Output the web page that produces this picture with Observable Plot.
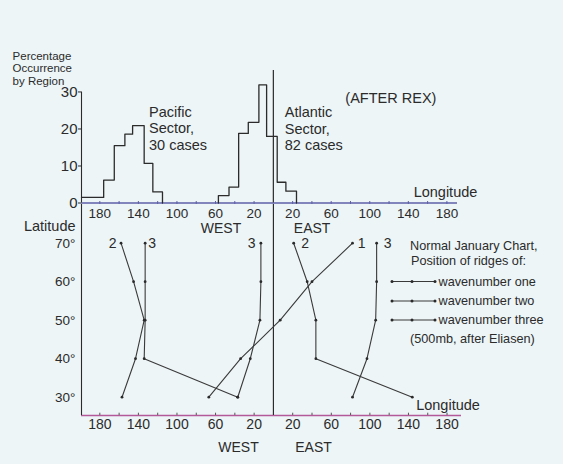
<!DOCTYPE html>
<html><head><meta charset="utf-8">
<script src="https://cdn.jsdelivr.net/npm/d3@7"></script>
<script src="https://cdn.jsdelivr.net/npm/@observablehq/plot@0.6"></script>
<style>
html,body{margin:0;padding:0;background:#edf5f7;}
#wrap{position:relative;width:563px;height:464px;overflow:hidden;background:#edf5f7;font-family:"Liberation Sans",Arial,sans-serif;color:#262626;}
#legend{position:absolute;left:0;top:0;}
</style></head><body><div id="wrap"></div>
<script>
// ---- Histogram data (percentage occurrence of blocking by longitude bin; west negative) ----
const pacificEdges = [-199, -176, -165, -154, -146, -134, -125, -115];
const pacificPct   = [1.5, 6.2, 15.5, 18.6, 20.9, 10.7, 3.0];
const atlanticEdges = [-57, -46, -36, -26, -15, -7, 4, 13, 24];
const atlanticPct   = [2.0, 4.3, 18.8, 21.8, 31.9, 18.0, 5.6, 3.2];

// ---- Ridge positions (Normal January chart, 500mb after Eliasen) ----
const ridgeLat = [70, 60, 50, 40, 30];
const wn1Lon = [82, 40, 7, -34, -67];
const wn2PacificLon = [-158, -145, -134, -143, -157];
const wn2EastLon = [21, 35, 44, 44, 144];
const wn3PacificLon = [-133, -133, -133, -134, -37];
const wn3AtlanticLon = [-13, -13, -14, -24, -37];
const wn3EastLon = [107, 107, 106, 97, 82];

// ---- Tick labels ----
const lonLabelTicks = [-180, -140, -100, -60, -20, 20, 60, 100, 140, 180];
const lonMinorTicks = [-180, -160, -140, -120, -100, -80, -60, -40, -20, 20, 40, 60, 80, 100, 120, 140, 160, 180];
const pctTicks = [0, 10, 20, 30];
const latTicks = [30, 40, 50, 60, 70];

const W = 563, H = 464;
const ink = "#2b2b2b";
const font = "'Liberation Sans', Arial, sans-serif";
const svgStyle = {position: "absolute", left: "0px", top: "0px", background: "transparent", overflow: "visible", fontFamily: font, fontSize: "13px", color: ink};

function steps(edges, vals, startAtZero) {
  const pts = [];
  if (startAtZero) pts.push({lon: edges[0], pct: 0});
  vals.forEach((v, i) => pts.push({lon: edges[i], pct: v}));
  pts.push({lon: edges[edges.length - 1], pct: vals[vals.length - 1]});
  pts.push({lon: edges[edges.length - 1], pct: 0});
  return pts;
}

const topPlot = Plot.plot({
  width: W, height: H,
  marginLeft: 81, marginRight: 106, marginTop: 70, marginBottom: 261.5,
  x: {domain: [-199, 191]},
  y: {domain: [0, 35.8]},
  style: svgStyle,
  marks: [
    Plot.ruleY([0], {x1: -199, x2: 191, stroke: "#5d5fa8", strokeWidth: 1.3}),
    Plot.ruleX([-199], {y1: 0, y2: 30, stroke: ink, strokeWidth: 1.1}),
    Plot.ruleX([0], {y1: 0, y2: 35.8, stroke: ink, strokeWidth: 1.2}),
    Plot.ruleX(lonMinorTicks, {y1: -0.4, y2: 0.4, stroke: "#5d5fa8", strokeWidth: 1}),
    Plot.axisX({ticks: lonLabelTicks, tickFormat: d => Math.abs(d), tickSize: 0, tickPadding: 5, label: null, fontSize: 13.5, fill: ink}),
    Plot.axisY({ticks: pctTicks, tickSize: 3, tickPadding: 1, label: null, fontSize: 15, fill: ink, stroke: ink}),
    Plot.line(steps(pacificEdges, pacificPct, false), {x: "lon", y: "pct", curve: "step-after", stroke: ink, strokeWidth: 1.3}),
    Plot.line(steps(atlanticEdges, atlanticPct, true), {x: "lon", y: "pct", curve: "step-after", stroke: ink, strokeWidth: 1.3}),
    Plot.text(["Percentage\nOccurrence\nby Region"], {x: -270.5, y: 36.4, textAnchor: "start", lineHeight: 1.11, fontSize: 11.5, fill: ink}),
    Plot.text(["Pacific\nSector,\n30 cases"], {x: -129, y: 20.3, textAnchor: "start", lineHeight: 1.14, fontSize: 14.5, fill: ink}),
    Plot.text(["Atlantic\nSector,\n82 cases"], {x: 11.8, y: 20.1, textAnchor: "start", lineHeight: 1.14, fontSize: 14.5, fill: ink}),
    Plot.text(["(AFTER REX)"], {x: 74.7, y: 28.2, textAnchor: "start", fontSize: 14.5, fill: ink}),
    Plot.text(["Longitude"], {x: 145.5, y: 2.9, textAnchor: "start", fontSize: 14.5, fill: ink}),
    Plot.text(["WEST"], {x: -54.3, y: -6.9, fontSize: 14, fill: ink}),
    Plot.text(["EAST"], {x: 40.2, y: -6.9, fontSize: 14, fill: ink})
  ]
});

function ridge(lons, name) {
  return lons.map((lon, i) => ({lon, lat: ridgeLat[i], name}));
}
const ridges = [
  ridge(wn1Lon, "wn1"),
  ridge(wn2PacificLon, "wn2p"),
  ridge(wn2EastLon, "wn2e"),
  ridge(wn3PacificLon, "wn3p"),
  ridge(wn3AtlanticLon, "wn3a"),
  ridge(wn3EastLon, "wn3e")
];
const ridgeRows = ridges.flat();

const bottomPlot = Plot.plot({
  width: W, height: H,
  marginLeft: 81, marginRight: 102, marginTop: 204, marginBottom: 49,
  x: {domain: [-199, 195]},
  y: {domain: [25.25, 80.05]},
  style: svgStyle,
  marks: [
    Plot.ruleY([25.25], {x1: -199, x2: 195, stroke: "#b3599a", strokeWidth: 1.3}),
    Plot.ruleX([-199], {y1: 25.25, y2: 80.05, stroke: ink, strokeWidth: 1.1}),
    Plot.ruleX([0], {y1: 25.25, y2: 80.05, stroke: ink, strokeWidth: 1.2}),
    Plot.ruleX(lonMinorTicks, {y1: 25.25, y2: 25.85, stroke: "#555", strokeWidth: 1}),
    Plot.axisX({ticks: lonLabelTicks, tickFormat: d => Math.abs(d), tickSize: 0, tickPadding: 4, label: null, fontSize: 14, fill: ink}),
    Plot.axisY({ticks: latTicks, tickFormat: d => d + "°", tickSize: 0, tickPadding: 6, label: null, fontSize: 13.5, fill: ink}),
    ...ridges.map(r => Plot.line(r, {x: "lon", y: "lat", stroke: "#3a3a3a", strokeWidth: 1.1})),
    Plot.dot(ridgeRows, {x: "lon", y: "lat", r: 1.4, fill: "#2a2a2a", stroke: null}),
    Plot.text(["Latitude"], {x: -205.2, y: 74.3, textAnchor: "end", fontSize: 14.5, fill: ink}),
    Plot.text(["2"], {x: -162.7, y: 70, textAnchor: "end", fontSize: 14, fill: ink}),
    Plot.text(["3"], {x: -129.8, y: 70, textAnchor: "start", fontSize: 14, fill: ink}),
    Plot.text(["3"], {x: -18.6, y: 70, textAnchor: "end", fontSize: 14, fill: ink}),
    Plot.text(["2"], {x: 28.8, y: 70, textAnchor: "start", fontSize: 14, fill: ink}),
    Plot.text(["1"], {x: 87.5, y: 70, textAnchor: "start", fontSize: 14, fill: ink}),
    Plot.text(["3"], {x: 114.5, y: 70, textAnchor: "start", fontSize: 14, fill: ink}),
    Plot.text(["Longitude"], {x: 148, y: 27.8, textAnchor: "start", fontSize: 14.5, fill: ink}),
    Plot.text(["WEST"], {x: -36.2, y: 17.0, fontSize: 14, fill: ink}),
    Plot.text(["EAST"], {x: 41.6, y: 17.0, fontSize: 14, fill: ink})
  ]
});

const wrap = document.getElementById("wrap");
wrap.appendChild(topPlot);
wrap.appendChild(bottomPlot);

// Legend
const legendItems = ["wavenumber one", "wavenumber two", "wavenumber three"];
const leg = d3.select(wrap).append("svg").attr("id", "legend")
  .attr("width", W).attr("height", H)
  .style("font-family", font).style("font-size", "12.7px").style("fill", ink);
leg.append("text").attr("x", 410).attr("y", 245.5).attr("dy", "0.35em").text("Normal January Chart,");
leg.append("text").attr("x", 411).attr("y", 261).attr("dy", "0.35em").text("Position of ridges of:");
legendItems.forEach((t, i) => {
  const y = [281.5, 301, 320][i];
  leg.append("line").attr("x1", 392).attr("x2", 435).attr("y1", y).attr("y2", y)
    .attr("stroke", "#3a3a3a").attr("stroke-width", 1.1);
  [392, 412, 435].forEach(cx => leg.append("circle").attr("cx", cx).attr("cy", y).attr("r", 1.5).attr("fill", "#2a2a2a"));
  leg.append("text").attr("x", 438.5).attr("y", y).attr("dy", "0.35em").text(t);
});
leg.append("text").attr("x", 410).attr("y", 339).attr("dy", "0.35em").text("(500mb, after Eliasen)");
</script>
</body></html>
